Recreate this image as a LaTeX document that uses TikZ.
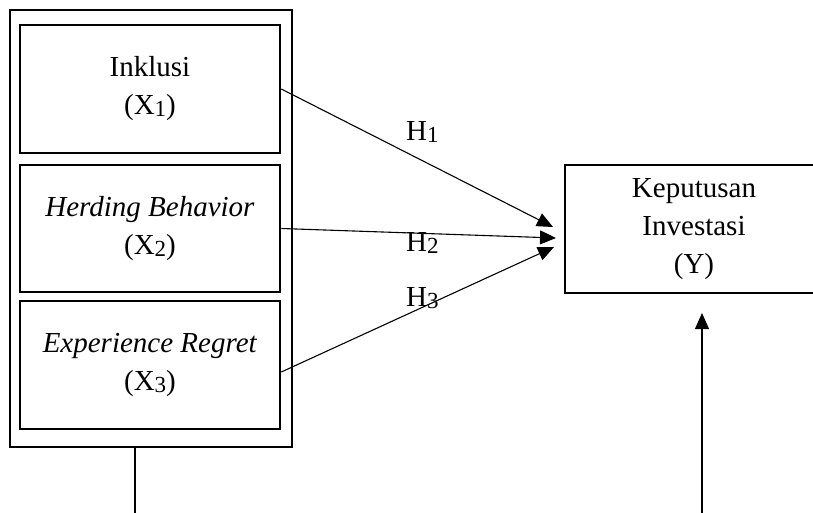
\documentclass[tikz,border=0pt]{standalone}
\usepackage{fontspec}
\setmainfont{Liberation Serif}
\usepackage{tikz}
\usetikzlibrary{arrows.meta}

\newcommand{\xsub}[1]{\raisebox{-2pt}{\fontsize{23}{23}\selectfont #1}}

\begin{document}
\begin{tikzpicture}[x=1pt, y=-1pt]

    \tikzset{%
        varbox/.style={draw, line width=2.6pt, minimum width=260pt, minimum height=128pt,
                inner sep=0pt, align=center, font=\fontsize{29}{38}\selectfont},
        hyplabel/.style={anchor=base west, inner sep=0pt, font=\fontsize{29}{38}\selectfont},
        link/.style={line width=1.1pt, -{Triangle[length=16pt, width=14pt]}},
    }

    \useasboundingbox (0, 0) rectangle (813, 513);
    \clip (0, 0) rectangle (813, 513);

    % independent variables
    \node [varbox, minimum width=282pt, minimum height=437pt] (frame) at (151, 228.5) {};
    \node [varbox] (x1) at (150, 89) {Inklusi\\(X\xsub{1})};
    \node [varbox, minimum height=127pt] (x2) at (150, 228.5) {\textit{Herding Behavior}\\(X\xsub{2})};
    \node [varbox] (x3) at (150, 365) {\textit{Experience Regret}\\(X\xsub{3})};

    % dependent variable
    \node [varbox, minimum width=258pt] (y) at (694, 229) {Keputusan\\Investasi\\(Y)};

    \coordinate (t1) at (553, 227);
    \coordinate (t2) at (556, 238);
    \coordinate (t3) at (554, 247);
    \draw [link] (x1.east) -- (t1);
    \draw [link] (x2.east) -- (t2);
    \draw [link] ([yshift=-7pt]x3.east) -- (t3);

    \node [hyplabel] (h1) at (406, 141) {H\xsub{1}};
    \node [hyplabel] (h2) at (406, 251) {H\xsub{2}};
    \node [hyplabel] (h3) at (406, 306) {H\xsub{3}};

    \coordinate (frameout) at (135, 513);
    \coordinate (ybase) at (702, 513);
    \coordinate (yin) at (702, 313);
    \draw [line width=1.3pt] (frameout |- frame.south) -- (frameout);
    \draw [link] (ybase) -- (yin);

\end{tikzpicture}
\end{document}
